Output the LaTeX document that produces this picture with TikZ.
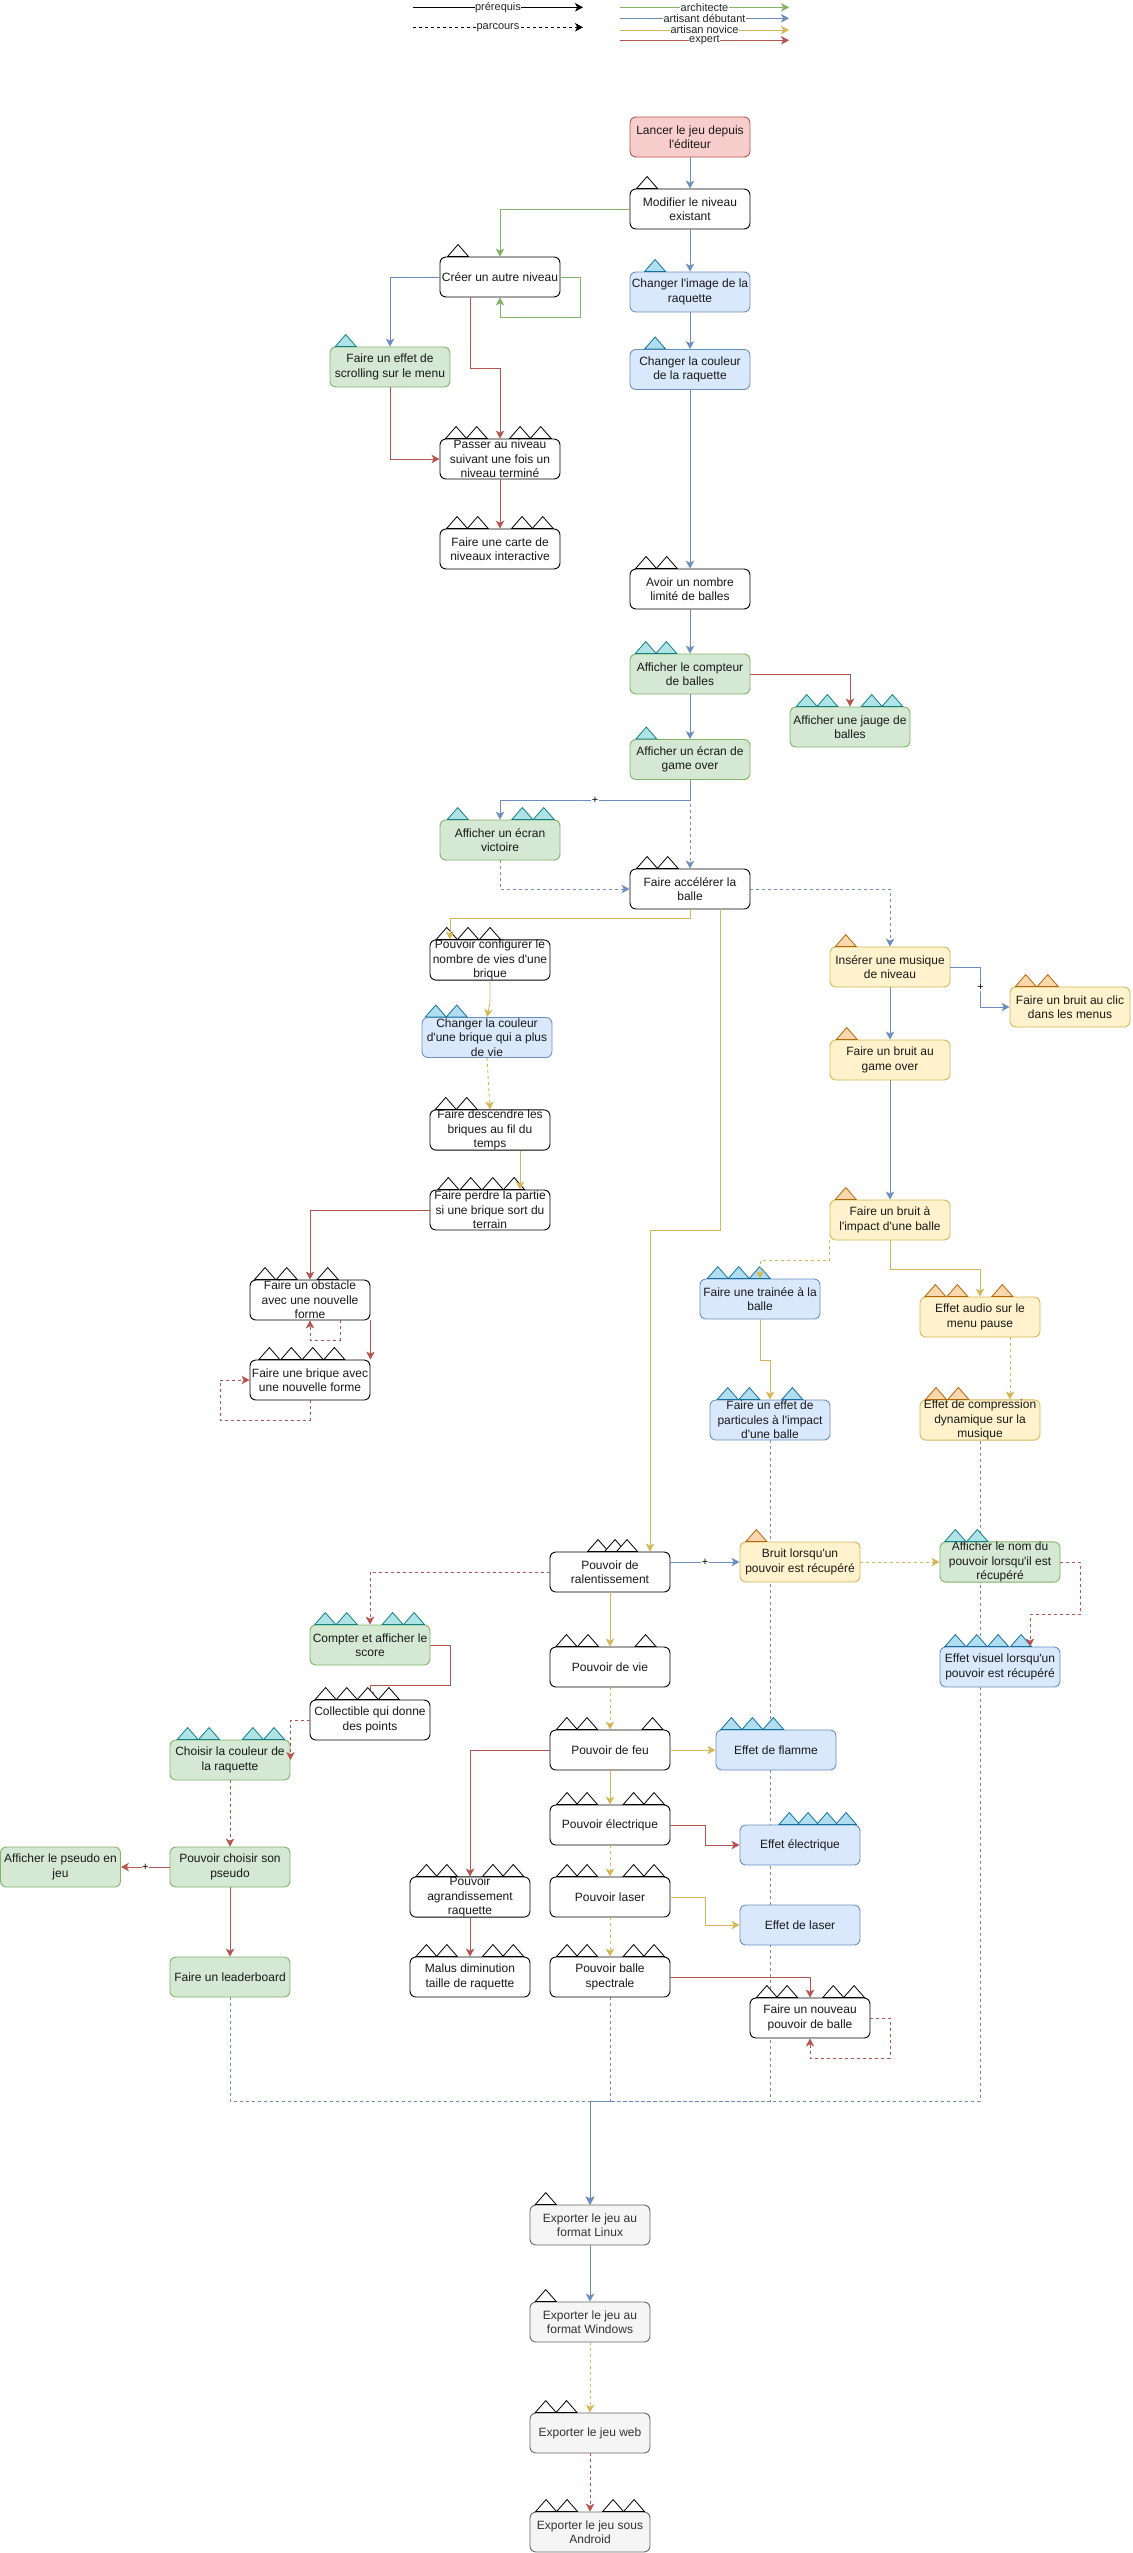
\documentclass[tikz,border=0pt]{standalone}
\usepackage{fontspec}
\newfontfamily\dfont{Liberation Sans}
\usetikzlibrary{arrows.meta,calc}
\definecolor{redF}{HTML}{F8CECC}\definecolor{redL}{HTML}{B85450}
\definecolor{bluF}{HTML}{DAE8FC}\definecolor{bluL}{HTML}{6C8EBF}
\definecolor{grnF}{HTML}{D5E8D4}\definecolor{grnL}{HTML}{82B366}
\definecolor{yelF}{HTML}{FFF2CC}\definecolor{yelL}{HTML}{D6B656}
\definecolor{gryF}{HTML}{F5F5F5}\definecolor{gryL}{HTML}{666666}\definecolor{gryT}{HTML}{333333}
\definecolor{tbF}{HTML}{B1DDF0}\definecolor{tbL}{HTML}{10739E}
\definecolor{ttF}{HTML}{B0E3E6}\definecolor{ttL}{HTML}{0E8088}
\definecolor{toF}{HTML}{FAD7AC}\definecolor{toL}{HTML}{B46504}
\pgfdeclarelayer{bg}\pgfsetlayers{bg,main}
\tikzset{
  box/.style={rectangle,rounded corners=6pt,minimum width=120pt,minimum height=40pt,inner sep=0pt,
    line width=0.9pt,align=center,font=\dfont\fontsize{12}{14.5}\selectfont,text=black!90},
  bW/.style={box,draw=black,fill=white},
  bR/.style={box,draw=redL,fill=redF},
  bB/.style={box,draw=bluL,fill=bluF},
  bG/.style={box,draw=grnL,fill=grnF},
  bY/.style={box,draw=yelL,fill=yelF},
  bK/.style={box,draw=gryL,fill=gryF,text=gryT},
  triW/.style={draw=black,fill=white,line width=0.8pt},
  triB/.style={draw=tbL,fill=tbF,line width=0.8pt},
  triT/.style={draw=ttL,fill=ttF,line width=0.8pt},
  triO/.style={draw=toL,fill=toF,line width=0.8pt},
  link/.style={line width=0.9pt,-{Stealth[length=8pt,width=8.5pt,inset=2.2pt]}},
  eB/.style={link,draw=bluL,color=bluL},
  eG/.style={link,draw=grnL,color=grnL},
  eY/.style={link,draw=yelL,color=yelL},
  eR/.style={link,draw=redL,color=redL},
  eK/.style={link,draw=black,color=black},
  dsh/.style={dash pattern=on 3pt off 3pt},
  plus/.style={fill=white,inner sep=0.5pt,text=black,font=\dfont\fontsize{11}{11}\selectfont},
  lab/.style={fill=white,inner sep=0.5pt,text=black!85,font=\dfont\fontsize{11}{11}\selectfont},
}
\newcommand\tris[3]{\foreach \o in {#3}{\draw[#2] ($(#1.north west)+(\o,0)$) -- ++(10.5,-12) -- ++(10.5,12) -- cycle;}}
\begin{document}
\begin{tikzpicture}[x=1pt,y=-1pt]
\useasboundingbox (0,0) rectangle (1132,2553);
% legend
\coordinate (la1) at (413,7.3);\coordinate (la2) at (583,7.3);
\coordinate (lb1) at (413,27.3);\coordinate (lb2) at (583,27.3);
\coordinate (lc1) at (620,7.3);\coordinate (lc2) at (789,7.3);
\coordinate (ld1) at (620,18.3);\coordinate (ld2) at (789,18.3);
\coordinate (le1) at (620,30);\coordinate (le2) at (789,30);
\coordinate (lf1) at (620,40.3);\coordinate (lf2) at (789,40.3);
\draw[eK] (la1) -- node[lab]{prérequis} (la2);
\draw[eK,dsh] (lb1) -- node[lab]{parcours} (lb2);
\draw[eG] (lc1) -- node[lab]{architecte} (lc2);
\draw[eB] (ld1) -- node[lab]{artisant débutant} (ld2);
\draw[eY] (le1) -- node[lab]{artisan novice} (le2);
\draw[eR] (lf1) -- node[lab]{expert} (lf2);
% nodes
\node[bR] (lancer) at (690,137) {Lancer le jeu depuis\\l'éditeur};
\node[bW] (modif) at (690,209) {Modifier le niveau\\existant};
\node[bW] (creer) at (500,277) {Créer un autre niveau};
\node[bB] (image) at (690,292) {Changer l'image de la\\raquette};
\node[bB] (couleur) at (690,369.5) {Changer la couleur\\de la raquette};
\node[bG] (scroll) at (390,367) {Faire un effet de\\scrolling sur le menu};
\node[bW] (passer) at (500,459) {Passer au niveau\\suivant une fois un\\niveau terminé};
\node[bW] (carte) at (500,549) {Faire une carte de\\niveaux interactive};
\node[bW] (avoir) at (690,589) {Avoir un nombre\\limité de balles};
\node[bG] (compteur) at (690,674) {Afficher le compteur\\de balles};
\node[bG] (jauge) at (850,727) {Afficher une jauge de\\balles};
\node[bG] (gover) at (690,759.5) {Afficher un écran de\\game over};
\node[bG] (victoire) at (500,840) {Afficher un écran\\victoire};
\node[bW] (accel) at (690,889) {Faire accélérer la\\balle};
\node[bW] (config) at (490,960) {Pouvoir configurer le\\nombre de vies d'une\\brique};
\node[bB,minimum width=130pt] (cbrique) at (487,1037.5) {Changer la couleur\\d'une brique qui a plus\\de vie};
\node[bW] (descend) at (490,1130) {Faire descendre les\\briques au fil du\\temps};
\node[bW] (perdre) at (490,1210) {Faire perdre la partie\\si une brique sort du\\terrain};
\node[bW] (obst) at (310,1300) {Faire un obstacle\\avec une nouvelle\\forme};
\node[bW] (brique) at (310,1380) {Faire une brique avec\\une nouvelle forme};
\node[bY] (musique) at (890,967) {Insérer une musique\\de niveau};
\node[bY] (clic) at (1070,1007) {Faire un bruit au clic\\dans les menus};
\node[bY] (bgover) at (890,1060) {Faire un bruit au\\game over};
\node[bY] (impact) at (890,1220) {Faire un bruit à\\l'impact d'une balle};
\node[bB] (trainee) at (760,1299) {Faire une trainée à la\\balle};
\node[bY] (audio) at (980,1317) {Effet audio sur le\\menu pause};
\node[bB] (partic) at (770,1420) {Faire un effet de\\particules à l'impact\\d'une balle};
\node[bY] (compress) at (980,1420) {Effet de compression\\dynamique sur la\\musique};
\node[bY] (bruitp) at (800,1562) {Bruit lorsqu'un\\pouvoir est récupéré};
\node[bG] (nom) at (1000,1562) {Afficher le nom du\\pouvoir lorsqu'il est\\récupéré};
\node[bB] (visuel) at (1000,1667) {Effet visuel lorsqu'un\\pouvoir est récupéré};
\node[bB] (flamme) at (776,1750) {Effet de flamme};
\node[bW] (ralent) at (610,1572) {Pouvoir de\\ralentissement};
\node[bW] (vie) at (610,1667) {Pouvoir de vie};
\node[bG] (score) at (370,1645) {Compter et afficher le\\score};
\node[bW] (collect) at (370,1720) {Collectible qui donne\\des points};
\node[bG] (ccouleur) at (230,1760) {Choisir la couleur de\\la raquette};
\node[bW] (feu) at (610,1750) {Pouvoir de feu};
\node[bW] (elec) at (610,1825) {Pouvoir électrique};
\node[bG] (pseudo) at (230,1867) {Pouvoir choisir son\\pseudo};
\node[bG] (apseudo) at (60.5,1867) {Afficher le pseudo en\\jeu};
\node[bW] (laser) at (610,1897) {Pouvoir laser};
\node[bW] (agrand) at (470,1897) {Pouvoir\\agrandissement\\raquette};
\node[bW] (malus) at (470,1977) {Malus diminution\\taille de raquette};
\node[bW] (spectr) at (610,1977) {Pouvoir balle\\spectrale};
\node[bG] (leader) at (230,1977) {Faire un leaderboard};
\node[bB] (eelec) at (800,1845) {Effet électrique};
\node[bB] (elaser) at (800,1925) {Effet de laser};
\node[bW] (nouveau) at (810,2018) {Faire un nouveau\\pouvoir de balle};
\node[bK] (linux) at (590,2225) {Exporter le jeu au\\format Linux};
\node[bK] (windows) at (590,2322) {Exporter le jeu au\\format Windows};
\node[bK] (web) at (590,2433) {Exporter le jeu web};
\node[bK] (android) at (590,2532) {Exporter le jeu sous\\Android};
\coordinate (bus) at (590,2101);
% connectors passing behind boxes
\begin{pgfonlayer}{bg}
\draw[eB,dsh] (partic.south) |- (bus) -- (linux.north);
\draw[eB,dsh] (compress.south) |- (bus) -- (linux.north);
\draw[eB,dsh] (spectr.south) |- (bus) -- (linux.north);
\draw[eB,dsh] (leader.south) |- (bus) -- (linux.north);
\draw[eR] (score.east) -- ++(20,0) -- ++(0,40) -| (collect.north);
\end{pgfonlayer}
% difficulty triangles
\tris{modif}{triW}{7}
\tris{creer}{triW}{8}
\tris{image}{triB}{15}
\tris{couleur}{triB}{15}
\tris{scroll}{triT}{5.7}
\tris{passer}{triW}{6,26.7,70,90.7}
\tris{carte}{triW}{7,27.7,72,92.7}
\tris{avoir}{triW}{6,26.7}
\tris{compteur}{triT}{5.7,26.3}
\tris{jauge}{triT}{6.7,27.3,71.7,92.3}
\tris{gover}{triT}{6.3}
\tris{victoire}{triT}{7.7,72.3,93.7}
\tris{accel}{triW}{7,27.7}
\tris{config}{triW}{6.7,28,50}
\tris{cbrique}{triB}{3.7,24.7}
\tris{descend}{triW}{5.7,26.7}
\tris{perdre}{triW}{8.3,30.7,52.7,74}
\tris{obst}{triW}{5,26.7,67.7}
\tris{brique}{triW}{9.3,31.3,52.7,74.3}
\tris{musique}{triO}{5.7}
\tris{clic}{triO}{5.7,27.7}
\tris{bgover}{triO}{6.7}
\tris{impact}{triO}{5.7}
\tris{trainee}{triB}{7.7,28.7,49.7}
\tris{audio}{triO}{5.3,27.3,72.3}
\tris{partic}{triB}{7.7,29.3,72.3}
\tris{compress}{triO}{6,28.3}
\tris{bruitp}{triO}{6.3}
\tris{nom}{triT}{5.3,27.3}
\tris{visuel}{triB}{5.3,26.7,48,71}
\tris{flamme}{triB}{5.3,26.3,47.3}
\tris{ralent}{triW}{38,55,67}
\tris{vie}{triW}{6.4,28,85.5}
\tris{feu}{triW}{6.8,27,92.5}
\tris{elec}{triW}{7,27,73.6,94}
\tris{laser}{triW}{7,27,73.6,94}
\tris{agrand}{triW}{6.4,26.8,72.9,93.2}
\tris{malus}{triW}{6.4,26.8,72.9,93.2}
\tris{spectr}{triW}{7,27,73.6,94}
\tris{score}{triT}{5.2,26.7,72.6,94}
\tris{collect}{triW}{5.6,26.7,47.7,68.8}
\tris{ccouleur}{triT}{7.6,29,72.8,94}
\tris{eelec}{triB}{39.3,58,77,96}
\tris{nouveau}{triW}{6.8,27,73.2,94}
\tris{linux}{triW}{5.7}
\tris{windows}{triW}{5.7}
\tris{web}{triW}{5.7,26.5}
\tris{android}{triW}{6,27,73,94}
% connectors
\draw[eB] (lancer.south) -- (modif.north);
\draw[eB] (modif.south) -- (image.north);
\draw[eB] (image.south) -- (couleur.north);
\draw[eB] (couleur.south) -- (avoir.north);
\draw[eG] (modif.west) -| (creer.north);
\draw[eG] (creer.east) -- ++(20,0) -- ++(0,40) -| (creer.south);
\draw[eB] (creer.west) -| (scroll.north);
\draw[eR] ($(creer.south)+(-30,0)$) -- ++(0,71) -| (passer.north);
\draw[eR] (scroll.south) |- (passer.west);
\draw[eR] (passer.south) -- (carte.north);
\draw[eB] (avoir.south) -- (compteur.north);
\draw[eB] (compteur.south) -- (gover.north);
\draw[eR] (compteur.east) -| (jauge.north);
\draw[eB] (gover.south) -- ++(0,20.5) -- node[plus]{+} ++(-190,0) -- (victoire.north);
\draw[eB,dsh] (gover.south) -- (accel.north);
\draw[eB,dsh] (victoire.south) |- (accel.west);
\draw[eB,dsh] (accel.east) -| (musique.north);
\draw[eY] (accel.south) -- ++(0,8.5) -| ($(config.north)+(-40,0)$);
\draw[eY] ($(accel.south)+(30,0)$) -- ++(0,321) -| ($(ralent.north)+(40,0)$);
\draw[eY] (config.south) -- ++(0,22) -- (cbrique.north);
\draw[eY,dsh] (cbrique.south) -- (descend.north);
\draw[eY] ($(descend.south)+(30,0)$) -- ($(perdre.north)+(30,0)$);
\draw[eR] (perdre.west) -| (obst.north);
\draw[eR,dsh] ($(obst.south)+(30,0)$) -- ++(0,20) -| (obst.south);
\draw[eR] (obst.south east) -- (brique.north east);
\draw[eR,dsh] (brique.south) -- ++(0,20) -- ++(-90,0) |- (brique.west);
\draw[eB] (musique.east) -- ++(30,0) -- node[plus]{+} ++(0,40) -- (clic.west);
\draw[eB] (musique.south) -- (bgover.north);
\draw[eB] (bgover.south) -- (impact.north);
\draw[eY,dsh] (impact.south west) -- ++(0,20) -| (trainee.north);
\draw[eY] (impact.south) -- ++(0,28.7) -| (audio.north);
\draw[eY] (trainee.south) -- ++(0,40.7) -| (partic.north);
\draw[eY,dsh] ($(audio.south)+(30,0)$) -- ($(compress.north)+(30,0)$);
\draw[eB] ($(ralent.east)+(0,-10)$) -- node[plus,pos=0.5]{+} (bruitp.west);
\draw[eY,dsh] (bruitp.east) -- (nom.west);
\draw[eR,dsh] (nom.east) -- ++(20,0) -- ++(0,52.7) -| ($(visuel.north)+(30,0)$);
\draw[eY] (feu.east) -- (flamme.west);
\draw[eR,dsh] (ralent.west) -| (score.north);
\draw[eR,dsh] (collect.west) -| (ccouleur.east);
\draw[eR,dsh] (ccouleur.south) -- (pseudo.north);
\draw[eR] (pseudo.west) -- node[plus]{+} (apseudo.east);
\draw[eR] (pseudo.south) -- (leader.north);
\draw[eY] (ralent.south) -- (vie.north);
\draw[eY,dsh] (vie.south) -- (feu.north);
\draw[eY] (feu.south) -- (elec.north);
\draw[eY,dsh] (elec.south) -- (laser.north);
\draw[eY,dsh] (laser.south) -- (spectr.north);
\draw[eR] (feu.west) -| (agrand.north);
\draw[eR] (agrand.south) -- (malus.north);
\draw[eR] (elec.east) -- ++(35,0) |- (eelec.west);
\draw[eY] (laser.east) -- ++(35,0) |- (elaser.west);
\draw[eR] (spectr.east) -| (nouveau.north);
\draw[eR,dsh] (nouveau.east) -- ++(20,0) -- ++(0,40) -| (nouveau.south);
\draw[eB] (linux.south) -- (windows.north);
\draw[eY,dsh] (windows.south) -- (web.north);
\draw[eR,dsh] (web.south) -- (android.north);
\end{tikzpicture}
\end{document}
